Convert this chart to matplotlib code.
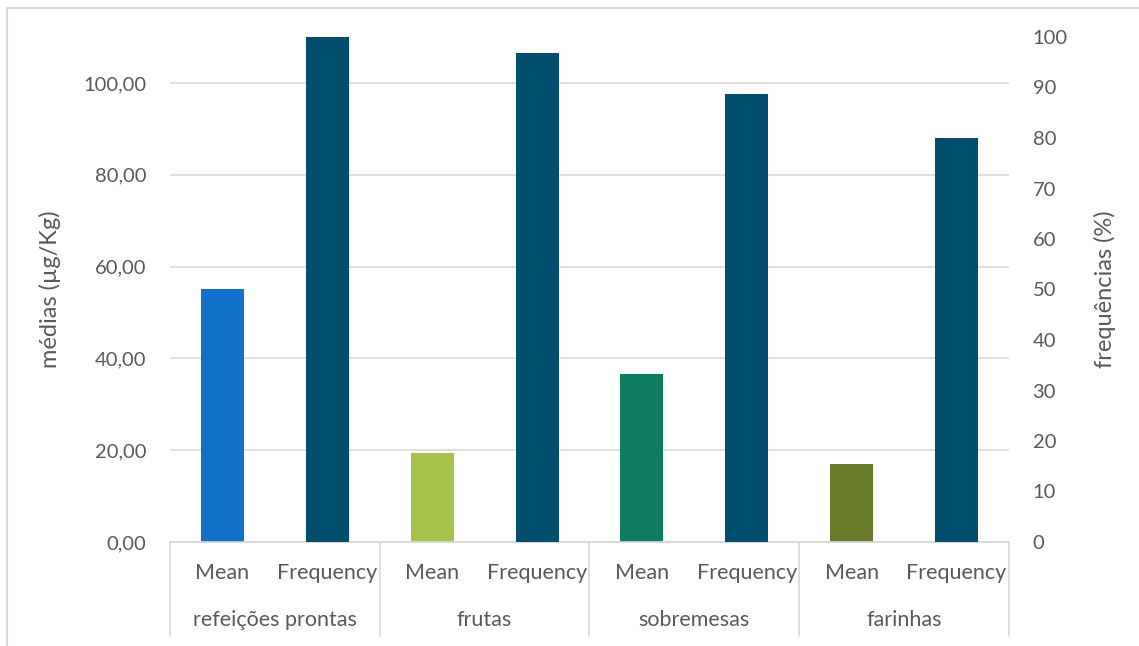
import numpy as np
import matplotlib
matplotlib.use('Agg')
import matplotlib.pyplot as plt
from matplotlib.lines import Line2D

plt.rcParams['font.family'] = ['Lato', 'DejaVu Sans']

# dados
grupos = ['refeições prontas', 'frutas', 'sobremesas', 'farinhas']
sub_labels = ['Mean', 'Frequency']
medias = [55.2, 19.4, 36.6, 16.9]        # µg/Kg (eixo esquerdo)
frequencias = [100, 96.8, 88.8, 80.0]    # % (eixo direito)
cores_media = ['#1170c8', '#a5c249', '#0e7c5e', '#667a28']
cor_freq = '#004e6d'

cinza = '#595959'
linha = '#d9d9d9'

fig = plt.figure(figsize=(11.39, 6.46), dpi=100)
ax = fig.add_axes([170/1139, 1-542/646, 839/1139, 505/646])
ax2 = ax.twinx()

n = len(grupos)
x_media = np.arange(n) * 2
x_freq = np.arange(n) * 2 + 1
w = 0.41

ax.bar(x_media, medias, width=w, color=cores_media, zorder=3)
ax2.bar(x_freq, frequencias, width=w, color=cor_freq, zorder=3)

ax.set_xlim(-0.5, 2*n - 0.5)
ax.set_ylim(0, 110)
ax2.set_ylim(0, 100)
ax.set_yticks(np.arange(0, 101, 20))
ax.set_yticklabels([('%.2f' % v).replace('.', ',') for v in np.arange(0, 101, 20)])
ax2.set_yticks(np.arange(0, 101, 10))

ax.grid(axis='y', color=linha, linewidth=1.2, zorder=0)
ax.set_axisbelow(True)

for a in (ax, ax2):
    for s in ['top', 'right', 'left']:
        a.spines[s].set_visible(False)
    a.spines['bottom'].set_color(linha)
    a.spines['bottom'].set_linewidth(1.2)
    a.tick_params(axis='y', length=0, labelsize=14.5, labelcolor=cinza, pad=17)
ax.tick_params(axis='x', length=0, labelsize=15.5, labelcolor=cinza, pad=15)

# rótulos de primeiro nível
ticks = np.arange(2*n)
ax.set_xticks(ticks)
ax.set_xticklabels(sub_labels * n)

# rótulos de grupo e separadores
tr = ax.get_xaxis_transform()
for i, g in enumerate(grupos):
    ax.text(2*i + 0.5, -0.155, g, transform=tr, ha='center', va='center',
            fontsize=15.5, color=cinza)
for b in np.arange(n + 1) * 2 - 0.5:
    ax.add_line(Line2D([b, b], [0, -0.186], transform=tr, color=linha,
                       linewidth=1.2, clip_on=False))

ax.set_ylabel('médias (µg/Kg)', fontsize=17, color=cinza)
ax.yaxis.set_label_coords(-0.130, 0.5)
ax2.set_ylabel('frequências (%)', fontsize=17, color=cinza, rotation=90)
ax2.yaxis.set_label_coords(1.101, 0.5)

# moldura do gráfico
fig.add_artist(Line2D([7/1139, 7/1139], [0, 1-8/646], transform=fig.transFigure,
                      color=linha, linewidth=1.5))
fig.add_artist(Line2D([7/1139, 1], [1-8/646, 1-8/646], transform=fig.transFigure,
                      color=linha, linewidth=1.5))

fig.savefig('out.png', dpi=100)
